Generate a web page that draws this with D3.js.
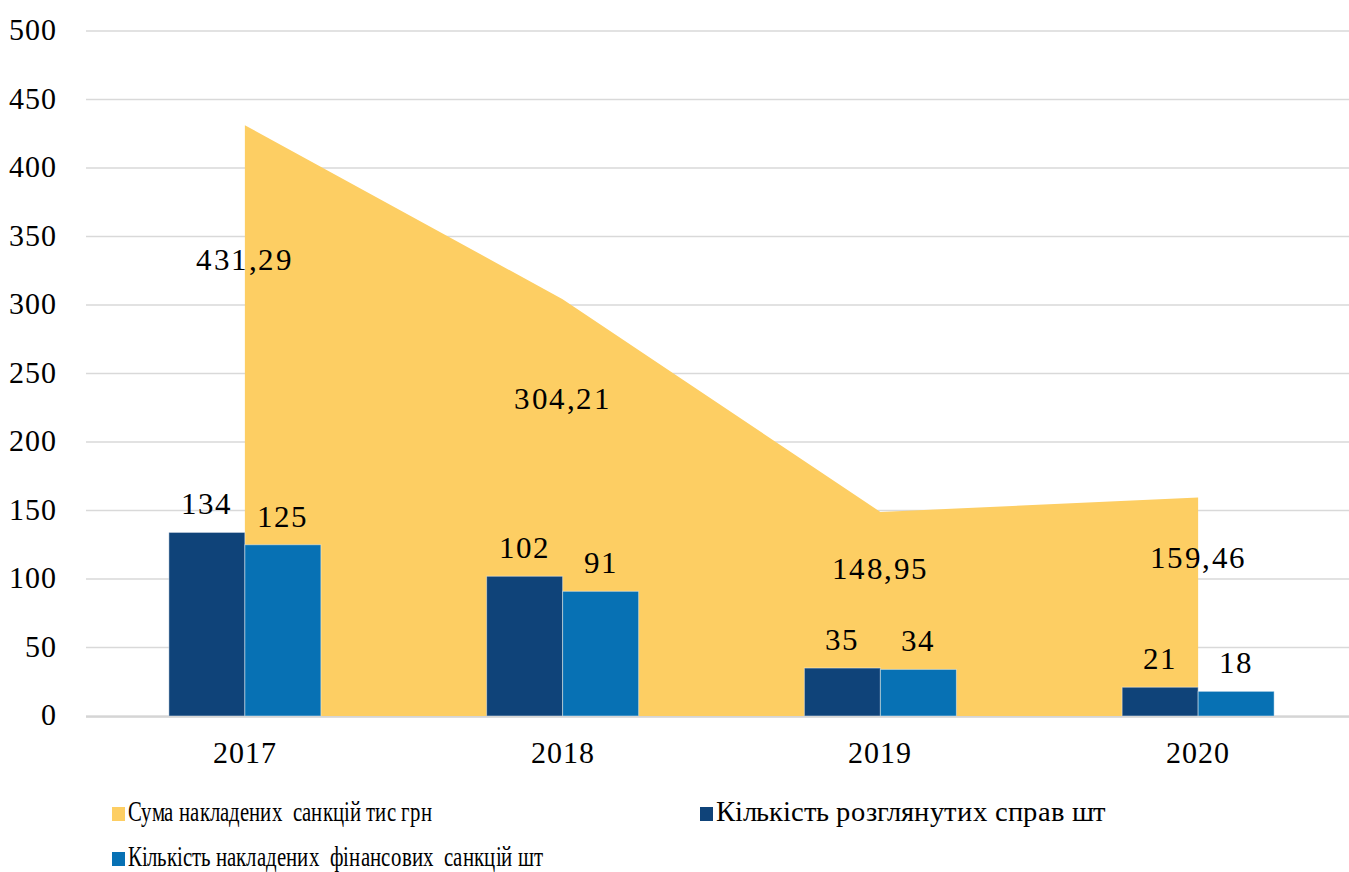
<!DOCTYPE html>
<html>
<head>
<meta charset="utf-8">
<script src="https://cdn.jsdelivr.net/npm/d3@7"></script>
<style>
  @font-face {
    font-family: 'ChartSerif';
    src: local('Liberation Serif'), local('LiberationSerif'), local('LiberationSerif-Regular'), local('Tinos'), local('Times New Roman');
  }
</style>
</head>
<body style="margin:0">
<svg id="chart" width="1349" height="872"></svg>
<script>
// data
const years = ['2017', '2018', '2019', '2020']
const sanctionsSum = [431.29, 304.21, 148.95, 159.46]   // тис грн (area)
const casesCount = [134, 102, 35, 21]                     // розглянутих справ
const finesCount = [125, 91, 34, 18]                      // фінансових санкцій
const yTicks = [0, 50, 100, 150, 200, 250, 300, 350, 400, 450, 500]
const seriesNames = [
  'Сума накладених  санкцій тис грн',
  'Кількість розглянутих справ шт',
  'Кількість накладених  фінансових  санкцій шт'
]
const colors = ['#FDCE63', '#0F4379', '#0771B4']

const FONT = 'ChartSerif, "Liberation Serif", Tinos, "Times New Roman", FreeSerif, serif'

const svg = d3.select('#chart')

const addLabel = (parent, x, y, str, size, opts = {}) => {
  const t = parent.append('text')
    .attr('x', x)
    .attr('y', y)
    .attr('text-anchor', opts.anchor || 'start')
    .attr('font-family', FONT)
    .style('font-family', FONT)
    .style('font-size', size + 'px')
    .style('white-space', 'pre')
    .style('letter-spacing', (opts.spacing || 0) + 'px')
    .text(str)
  if (opts.width) {
    t.attr('textLength', opts.width).attr('lengthAdjust', 'spacingAndGlyphs')
  }
  return t
}

const xScale = d3.scaleBand().domain(years).range([86, 1357])
const yScale = d3.scaleLinear().domain([0, 500]).range([716, 31])
const center = d => xScale(d) + xScale.bandwidth() / 2

// gridlines
svg.append('g')
  .selectAll('line')
  .data(yTicks)
  .enter()
  .append('line')
  .attr('x1', 86)
  .attr('x2', 1357)
  .attr('y1', d => yScale(d))
  .attr('y2', d => yScale(d))
  .attr('stroke', '#D9D9D9')
  .attr('stroke-width', 1.5)

// area
const areaData = years.map((y, i) => ({ year: y, value: sanctionsSum[i] }))
const area = d3.area()
  .x(d => center(d.year))
  .y0(yScale(0))
  .y1(d => yScale(d.value))
svg.append('path')
  .datum(areaData)
  .attr('fill', colors[0])
  .attr('d', area)

// bars
const inner = d3.scaleBand().domain([0, 1]).range([-76, 76])
const barSeries = [casesCount, finesCount]
barSeries.forEach((series, s) => {
  svg.append('g')
    .selectAll('rect')
    .data(series)
    .enter()
    .append('rect')
    .attr('x', (d, i) => center(years[i]) + inner(s))
    .attr('width', inner.bandwidth())
    .attr('y', d => yScale(d))
    .attr('height', d => yScale(0) - yScale(d))
    .attr('fill', colors[s + 1])
    .attr('stroke', 'rgba(255,255,255,0.45)')
    .attr('stroke-width', 1)
})

// zero axis line
svg.append('line')
  .attr('x1', 86).attr('x2', 1357)
  .attr('y1', yScale(0) + 1).attr('y2', yScale(0) + 1)
  .attr('stroke', '#D0D0D0')
  .attr('stroke-width', 1.5)

// y tick labels
const yLab = svg.append('g')
yTicks.forEach(d => addLabel(yLab, 57, yScale(d) + 9, String(d), 30, { anchor: 'end', spacing: 1 }))

// bar labels
const barLab = svg.append('g')
barSeries.forEach((series, s) => {
  series.forEach((d, i) => {
    const x = center(years[i]) + inner(s) + inner.bandwidth() / 2
    addLabel(barLab, x, yScale(d) - 18, String(d), 31, { anchor: 'middle', spacing: 1 })
  })
})

// area labels
const areaLab = svg.append('g')
areaData.forEach(d => {
  addLabel(areaLab, center(d.year), yScale(d.value * 0.8 - 12) + 10,
    d.value.toFixed(2).replace('.', ','), 31, { anchor: 'middle', spacing: 1.5 })
})

// x labels
const xLab = svg.append('g')
years.forEach(d => addLabel(xLab, center(d), 763, d, 30, { anchor: 'middle', spacing: 1 }))

// legend
const legendPos = [[112, 821], [700, 821], [112, 866]]
const legendWidth = [304, 390, 415]
const legend = svg.append('g')
seriesNames.forEach((name, i) => {
  legend.append('rect')
    .attr('x', legendPos[i][0])
    .attr('y', legendPos[i][1] - 14)
    .attr('width', 13)
    .attr('height', 14)
    .attr('fill', colors[i])
  addLabel(legend, legendPos[i][0] + 16, legendPos[i][1], name, 29, { width: legendWidth[i] })
})
</script>
</body>
</html>
